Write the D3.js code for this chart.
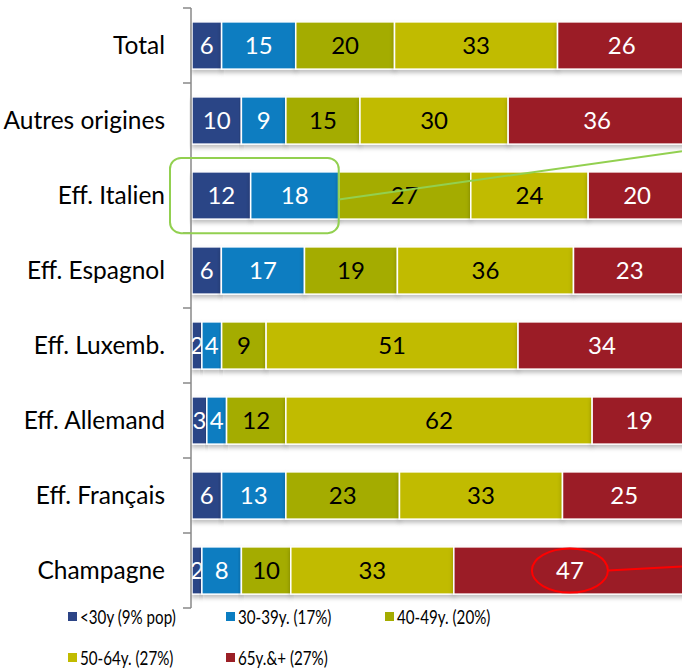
<!DOCTYPE html>
<html>
<head>
<meta charset="utf-8">
<script src="https://cdn.jsdelivr.net/npm/d3@7"></script>
<style>
  body { margin: 0; background: #fff; }
  svg { display: block; font-family: Lato, "Open Sans", sans-serif; }
</style>
</head>
<body>
<div id="container"></div>
<script>
// categories top to bottom
var categories = ["Total", "Autres origines", "Eff. Italien", "Eff. Espagnol",
  "Eff. Luxemb.", "Eff. Allemand", "Eff. Français", "Champagne"];

// age groups (series) and legend labels
var groups = ["<30y (9% pop)", "30-39y. (17%)", "40-49y. (20%)", "50-64y. (27%)", "65y.&+ (27%)"];
var colors = ["#2c4486", "#0b7dc1", "#a4ac00", "#c1bb00", "#9b1f26"];
var labelColors = ["#fff", "#fff", "#000", "#000", "#fff"];

// values per series, one per category
var under30 = [6, 10, 12, 6, 2, 3, 6, 2];
var age30_39 = [15, 9, 18, 17, 4, 4, 13, 8];
var age40_49 = [20, 15, 27, 19, 9, 12, 23, 10];
var age50_64 = [33, 30, 24, 36, 51, 62, 33, 33];
var over65 = [26, 36, 20, 23, 34, 19, 25, 47];

var series = [under30, age30_39, age40_49, age50_64, over65];

var width = 682, height = 670;

var svg = d3.select("div#container")
  .append("svg")
  .attr("width", width)
  .attr("height", height);

var defs = svg.append("defs");
var f = defs.append("filter").attr("id", "shadow")
  .attr("x", "-5%").attr("y", "-20%").attr("width", "110%").attr("height", "160%");
f.append("feDropShadow").attr("dx", 0).attr("dy", 3).attr("stdDeviation", 2)
  .attr("flood-color", "#000").attr("flood-opacity", 0.25);

// table for the stack
var table = categories.map(function (c, i) {
  var row = { cat: c };
  groups.forEach(function (g, j) { row[g] = series[j][i]; });
  return row;
});

var stacked = d3.stack().keys(groups).offset(d3.stackOffsetExpand)(table);

var x = d3.scaleLinear().domain([0, 1]).range([192, 686]);
var y = d3.scaleBand().domain(categories).range([8, 608]).paddingInner(0.37).paddingOuter(0.185);

// bars
var layers = svg.append("g").selectAll("g.layer")
  .data(stacked)
  .enter()
  .append("g")
  .attr("fill", function (d, i) { return colors[i]; });

layers.selectAll("rect")
  .data(function (d) { return d; })
  .enter()
  .append("rect")
  .attr("x", function (d) { return x(d[0]); })
  .attr("y", function (d) { return y(d.data.cat); })
  .attr("width", function (d) { return x(d[1]) - x(d[0]); })
  .attr("height", y.bandwidth())
  .attr("stroke", "#fff")
  .attr("stroke-width", 1.5)
  .attr("filter", "url(#shadow)");

// value labels
layers.each(function (s, i) {
  d3.select(this).selectAll("text")
    .data(s)
    .enter()
    .append("text")
    .attr("x", function (d) { return (x(d[0]) + x(d[1])) / 2; })
    .attr("y", function (d) { return y(d.data.cat) + y.bandwidth() / 2; })
    .attr("dy", "0.36em")
    .attr("text-anchor", "middle")
    .attr("font-size", 24)
    .attr("fill", labelColors[i])
    .text(function (d) { return d.data[groups[i]]; });
});

// axis line with boundary ticks
var axis = svg.append("g").attr("stroke", "#888").attr("stroke-width", 1.5);
axis.append("line")
  .attr("x1", 191).attr("x2", 191)
  .attr("y1", y.range()[0]).attr("y2", y.range()[1]);
axis.selectAll("line.tick")
  .data(d3.range(categories.length + 1))
  .enter()
  .append("line")
  .attr("x1", 183).attr("x2", 191)
  .attr("y1", function (i) { return y.range()[0] + i * y.step(); })
  .attr("y2", function (i) { return y.range()[0] + i * y.step(); });

svg.append("g").selectAll("text")
  .data(categories)
  .enter()
  .append("text")
  .attr("x", 165)
  .attr("y", function (d) { return y(d) + y.bandwidth() / 2; })
  .attr("dy", "0.36em")
  .attr("text-anchor", "end")
  .attr("font-size", 24.5)
  .attr("fill", "#000")
  .text(function (d) { return d; });

// annotation: green rounded box round Italien <30 and 30-39
var ita = stacked[1].find(function (d) { return d.data.cat == "Eff. Italien"; });
var boxR = x(ita[1]);
svg.append("rect")
  .attr("x", 170)
  .attr("y", y("Eff. Italien") - 14)
  .attr("width", boxR - 170)
  .attr("height", y.bandwidth() + 28)
  .attr("rx", 11)
  .attr("fill", "none")
  .attr("stroke", "#92d050")
  .attr("stroke-width", 2);
svg.append("line")
  .attr("x1", boxR).attr("y1", y("Eff. Italien") + y.bandwidth() / 2 + 4)
  .attr("x2", width).attr("y2", y("Autres origines") + y.bandwidth() + 7)
  .attr("stroke", "#92d050")
  .attr("stroke-width", 2);

// annotation: red ellipse round Champagne 65+
var ch = stacked[4].find(function (d) { return d.data.cat == "Champagne"; });
var cx = (x(ch[0]) + x(ch[1])) / 2, cy = y("Champagne") + y.bandwidth() / 2;
svg.append("ellipse")
  .attr("cx", cx).attr("cy", cy)
  .attr("rx", 38).attr("ry", 22)
  .attr("fill", "none")
  .attr("stroke", "#ff0000")
  .attr("stroke-width", 2);
svg.append("line")
  .attr("x1", cx + 38).attr("y1", cy)
  .attr("x2", width).attr("y2", cy - 4)
  .attr("stroke", "#ff0000")
  .attr("stroke-width", 2);

// legend
var legendPos = [[68, 617], [226, 617], [385, 617], [68, 658], [226, 658]];
var legend = svg.append("g").selectAll("g")
  .data(groups)
  .enter()
  .append("g")
  .attr("transform", function (d, i) { return "translate(" + legendPos[i][0] + "," + legendPos[i][1] + ")"; });
legend.append("rect")
  .attr("x", 0).attr("y", -5)
  .attr("width", 9).attr("height", 9)
  .attr("fill", function (d, i) { return colors[i]; });
legend.append("text")
  .attr("transform", "translate(12,0) scale(0.82,1)")
  .attr("dy", "0.36em")
  .attr("font-size", 18.5)
  .attr("fill", "#000")
  .text(function (d) { return d; });
</script>
</body>
</html>
